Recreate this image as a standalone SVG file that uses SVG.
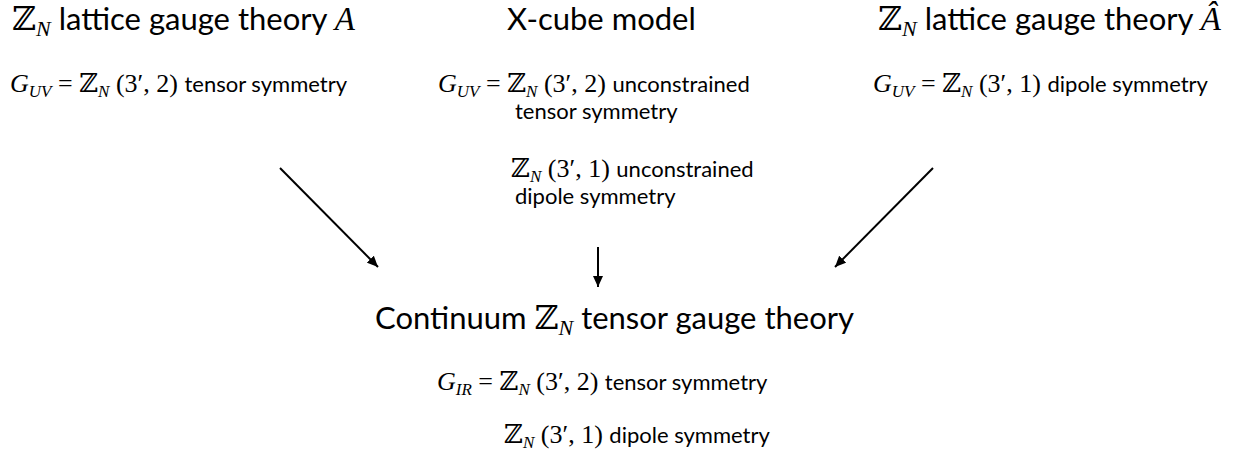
<svg xmlns="http://www.w3.org/2000/svg" width="1234" height="456" viewBox="0 0 1234 456">
<defs>
<style>
.t{font-family:Lato,"Open Sans",sans-serif;font-size:31px;fill:#000}
.s{font-family:Lato,"Open Sans",sans-serif;font-size:22px;fill:#000}
.m{font-family:"Liberation Serif","DejaVu Serif",serif}
.z{font-family:"DejaVu Serif","DejaVu Sans",serif}
.i{font-style:italic}
.mt{font-size:33px}
.st{font-size:22px}
.ms{font-size:26px}
.ss{font-size:17px}
.c{stroke:#000;stroke-width:2;fill:none;marker-end:url(#ah)}
</style>
<marker id="ah" markerUnits="userSpaceOnUse" markerWidth="12" markerHeight="10" refX="11" refY="5" orient="auto">
<path d="M0,0 L11,5 L0,10 z" fill="#000"/>
</marker>
</defs>
<rect width="1234" height="456" fill="#fff"/>
<g id="lattice-A">
<text class="t" x="12" y="30"><tspan class="z mt">ℤ</tspan><tspan class="m i st" dy="6">N</tspan><tspan dy="-6"> lattice gauge theory </tspan><tspan class="m i mt">A</tspan></text>
<text class="s" x="10" y="92"><tspan class="m i ms">G</tspan><tspan class="m i ss" dy="5">UV</tspan><tspan class="m ms" dy="-5"> = </tspan><tspan class="z ms">ℤ</tspan><tspan class="m i ss" dy="5">N</tspan><tspan class="m ms" dy="-5"> (3′, 2) </tspan><tspan>tensor symmetry</tspan></text>
</g>
<g id="xcube">
<text class="t" x="507" y="30">X-cube model</text>
<text class="s" x="438" y="92"><tspan class="m i ms">G</tspan><tspan class="m i ss" dy="5">UV</tspan><tspan class="m ms" dy="-5"> = </tspan><tspan class="z ms">ℤ</tspan><tspan class="m i ss" dy="5">N</tspan><tspan class="m ms" dy="-5"> (3′, 2) </tspan><tspan>unconstrained</tspan></text>
<text class="s" x="515" y="119">tensor symmetry</text>
<text class="s" x="511" y="177"><tspan class="z ms">ℤ</tspan><tspan class="m i ss" dy="5">N</tspan><tspan class="m ms" dy="-5"> (3′, 1) </tspan><tspan>unconstrained</tspan></text>
<text class="s" x="515" y="204">dipole symmetry</text>
</g>
<g id="lattice-Ahat">
<text class="t" x="878" y="30"><tspan class="z mt">ℤ</tspan><tspan class="m i st" dy="6">N</tspan><tspan dy="-6"> lattice gauge theory </tspan><tspan class="m i mt">Â</tspan></text>
<text class="s" x="873" y="92"><tspan class="m i ms">G</tspan><tspan class="m i ss" dy="5">UV</tspan><tspan class="m ms" dy="-5"> = </tspan><tspan class="z ms">ℤ</tspan><tspan class="m i ss" dy="5">N</tspan><tspan class="m ms" dy="-5"> (3′, 1) </tspan><tspan>dipole symmetry</tspan></text>
</g>
<g id="continuum">
<text class="t" x="375" y="329">Continuum <tspan class="z mt">ℤ</tspan><tspan class="m i st" dy="6">N</tspan><tspan dy="-6"> tensor gauge theory</tspan></text>
<text class="s" x="437" y="390"><tspan class="m i ms">G</tspan><tspan class="m i ss" dy="5">IR</tspan><tspan class="m ms" dy="-5"> = </tspan><tspan class="z ms">ℤ</tspan><tspan class="m i ss" dy="5">N</tspan><tspan class="m ms" dy="-5"> (3′, 2) </tspan><tspan>tensor symmetry</tspan></text>
<text class="s" x="504" y="443"><tspan class="z ms">ℤ</tspan><tspan class="m i ss" dy="5">N</tspan><tspan class="m ms" dy="-5"> (3′, 1) </tspan><tspan>dipole symmetry</tspan></text>
</g>
<g id="connectors">
<line class="c" x1="280" y1="168" x2="378" y2="267"/>
<line class="c" x1="598" y1="247" x2="598" y2="287"/>
<line class="c" x1="933" y1="168" x2="835" y2="267"/>
</g>
</svg>
